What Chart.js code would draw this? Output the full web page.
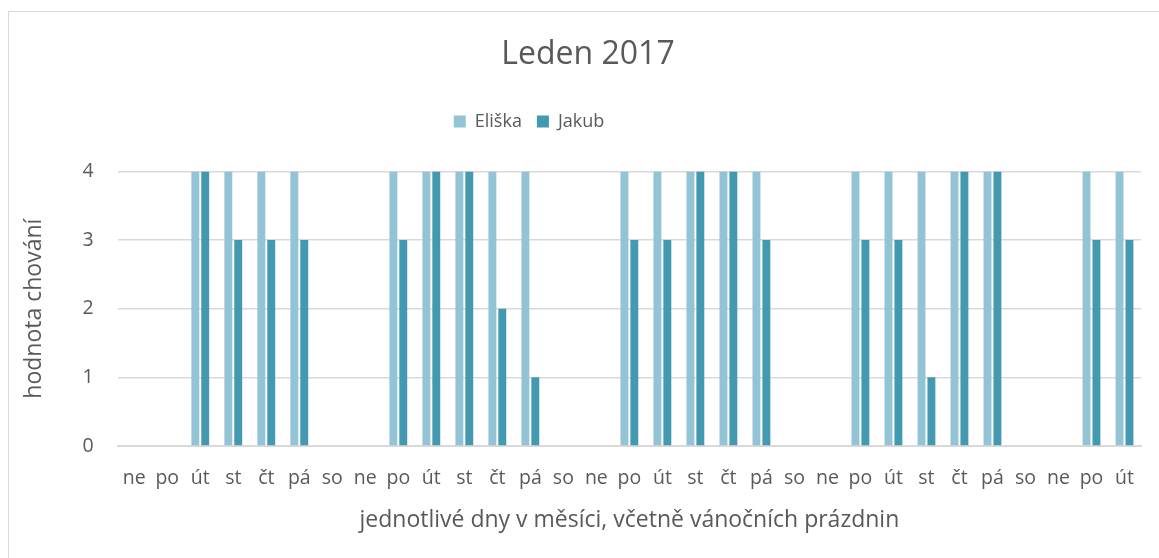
<!DOCTYPE html>
<html>
<head>
<meta charset="utf-8">
<script src="https://cdn.jsdelivr.net/npm/chart.js@4/dist/chart.umd.min.js"></script>
<style>
    html, body { margin: 0; padding: 0; background: #fff; overflow: hidden; }
    #frame {
        position: absolute; left: 8px; top: 11px; width: 1200px; height: 600px;
        border: 1px solid #d9d9d9; box-sizing: border-box;
    }
    #chart_leden { position: absolute; left: 0; top: 0; }
</style>
</head>
<body>
<div id="frame"></div>
<canvas id="chart_leden" width="1159" height="558"></canvas>
<script>

var dny = ['ne','po','út','st','čt','pá','so','ne','po','út','st','čt','pá','so','ne','po','út','st','čt','pá','so','ne','po','út','st','čt','pá','so','ne','po','út'];

var data_eliska = [null,null,4,4,4,4,null,null,4,4,4,4,4,null,null,4,4,4,4,4,null,null,4,4,4,4,4,null,null,4,4];
var data_jakub  = [null,null,4,3,3,3,null,null,3,4,4,2,1,null,null,3,3,4,4,3,null,null,3,3,1,4,4,null,null,3,3];

var textColor = '#595959';
var fontName = "'Open Sans', 'Noto Sans', sans-serif";

// extra space under the legend + small horizontal shifts of title / legend
var layoutTweaks = {
    id: 'layoutTweaks',
    beforeInit(chart) {
        const fitValue = chart.legend.fit;
        chart.legend.fit = function fit() {
            fitValue.bind(chart.legend)();
            this.height += 31;
        };
    },
    afterLayout(chart) {
        chart.legend.left -= 52;
        chart.legend.right -= 52;
        chart.titleBlock.left += 7;
        chart.titleBlock.right += 7;
    }
};

function drawChart_leden() {
    new Chart(document.getElementById('chart_leden').getContext('2d'), {
        type: 'bar',
        data: {
            labels: dny,
            datasets: [
                {
                    label: 'Eliška',
                    data: data_eliska,
                    backgroundColor: '#93c4d6',
                    categoryPercentage: 0.6,
                    barPercentage: 0.8,
                },
                {
                    label: 'Jakub',
                    data: data_jakub,
                    backgroundColor: '#4399b0',
                    categoryPercentage: 0.6,
                    barPercentage: 0.8,
                }
            ],
        },
        plugins: [layoutTweaks],
        options: {
            responsive: false,
            animation: false,
            layout: {
                padding: { left: 21, right: 18, top: 15, bottom: 24 }
            },
            plugins: {
                title: {
                    display: true,
                    text: 'Leden 2017',
                    color: textColor,
                    font: { family: fontName, size: 32, weight: 'normal' },
                    padding: { top: 21, bottom: 23 }
                },
                legend: {
                    display: true,
                    labels: {
                        color: textColor,
                        font: { family: fontName, size: 18 },
                        boxWidth: 12,
                        boxHeight: 12,
                        padding: 15
                    }
                },
                tooltip: { enabled: false }
            },
            scales: {
                x: {
                    grid: { display: false },
                    border: { color: '#d9d9d9', width: 2 },
                    ticks: {
                        color: textColor,
                        font: { family: fontName, size: 19.5 },
                        autoSkip: false,
                        maxRotation: 0,
                        padding: 13
                    },
                    title: {
                        display: true,
                        text: 'jednotlivé dny v měsíci, včetně vánočních prázdnin',
                        color: textColor,
                        font: { family: fontName, size: 23 },
                        padding: { top: 3, bottom: 0 }
                    }
                },
                y: {
                    min: 0,
                    max: 4,
                    grid: { color: '#d9d9d9', lineWidth: 1.5, drawTicks: false },
                    border: { display: false },
                    ticks: {
                        stepSize: 1,
                        color: textColor,
                        font: { family: fontName, size: 19.5 },
                        padding: 24
                    },
                    title: {
                        display: true,
                        text: 'hodnota chování',
                        color: textColor,
                        font: { family: fontName, size: 23 },
                        padding: { top: 0, bottom: 10 }
                    }
                }
            }
        }
    });
}

drawChart_leden();

</script>
</body>
</html>
